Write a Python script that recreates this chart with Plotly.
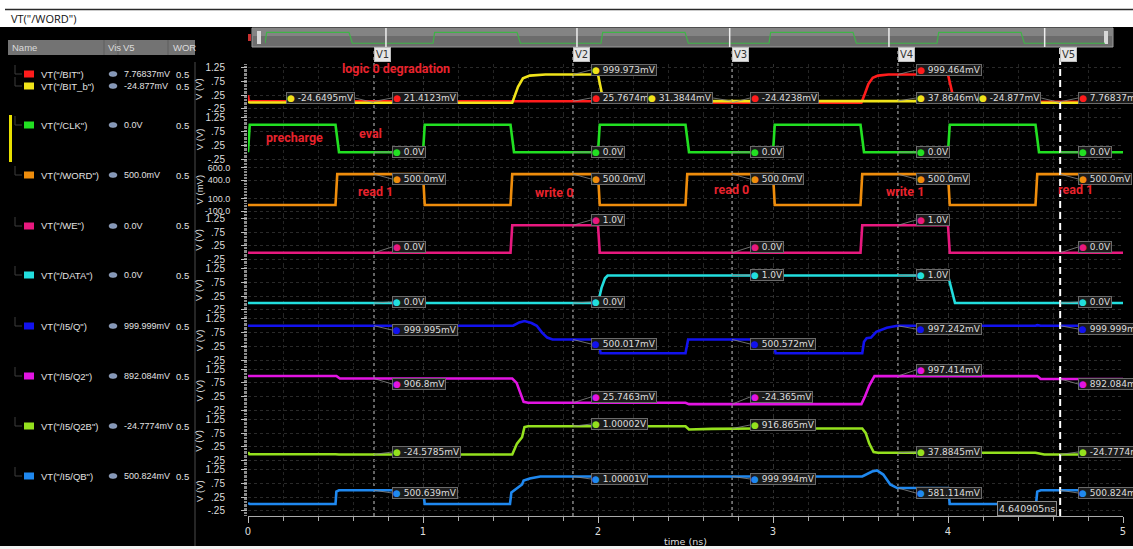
import numpy as np
import plotly.graph_objects as go

# ---------------- values ----------------
TIME_RANGE = [0, 5]
X_TICKS = [0, 1, 2, 3, 4, 5]
X_TICK_TEXT = ["0", "1", "2", "3", "4", "5"]

CURSOR_NAMES = ["V1", "V2", "V3", "V4", "V5"]
CURSOR_T = [0.72, 1.857, 2.766, 3.714, 4.640905]
CURSOR_READOUT = "4.640905ns"

SIG_KEYS = ["BIT", "BIT_b", "CLK", "WORD", "WE", "DATA", "Q", "Q2", "Q2B", "QB"]
SIG_LABELS = ['VT("/BIT")', 'VT("/BIT_b")', 'VT("/CLK")', 'VT("/WORD")', 'VT("/WE")',
              'VT("/DATA")', 'VT("/I5/Q")', 'VT("/I5/Q2")', 'VT("/I5/Q2B")', 'VT("/I5/QB")']
V5_COLUMN = ["7.76837mV", "-24.877mV", "0.0V", "500.0mV", "0.0V", "0.0V",
             "999.999mV", "892.084mV", "-24.7774mV", "500.824mV"]
WORD_COLUMN = ["0.5"] * 10

# waveforms (time in ns, value in V; WORD in mV)
bit_t = [0, 0.004, 0.02, 1.5, 1.52, 2.0, 2.06, 2.5, 3.0, 3.505, 3.525, 3.545, 3.57, 3.6, 3.66, 4.0, 4.035, 4.1, 5.0]
bit_v = [0.25, 0.05, 0.021, 0.021, 0.026, 0.026, -0.02, -0.024, -0.024, -0.024, 0.3, 0.65, 0.88, 0.96, 1.0, 0.999, 0.04, 0.01, 0.008]

bit_b_t = [0, 0.01, 0.5, 0.52, 1.51, 1.525, 1.543, 1.571, 1.61, 1.7, 2.0, 2.03, 2.06, 2.5, 3.5, 3.55, 4.0, 4.04, 5.0]
bit_b_v = [0.0, -0.02, -0.02, -0.025, -0.025, 0.25, 0.55, 0.86, 0.96, 1.0, 1.0, 0.06, 0.031, 0.031, 0.032, 0.038, 0.038, -0.025, -0.025]

clk_t = [0, 0.01, 0.5, 0.52, 1.0, 1.01, 1.5, 1.52, 2.0, 2.01, 2.5, 2.52, 3.0, 3.01, 3.5, 3.52, 4.0, 4.01, 4.5, 4.52, 5.0]
clk_v = [0, 1, 1, 0, 0, 1, 1, 0, 0, 1, 1, 0, 0, 1, 1, 0, 0, 1, 1, 0, 0]

word_t = [0, 0.5, 0.51, 1.0, 1.01, 1.5, 1.51, 2.0, 2.01, 2.5, 2.51, 3.0, 3.01, 3.5, 3.51, 4.0, 4.01, 4.5, 4.51, 5.0]
word_v = [0, 0, 500, 500, 0, 0, 500, 500, 0, 0, 500, 500, 0, 0, 500, 500, 0, 0, 500, 500]

we_t = [0, 1.5, 1.51, 2.0, 2.01, 3.5, 3.51, 4.0, 4.01, 5.0]
we_v = [0, 0, 1, 1, 0, 0, 1, 1, 0, 0]

data_t = [0, 2.0, 2.02, 2.04, 2.055, 4.0, 4.04, 5.0]
data_v = [0, 0, 0.55, 0.9, 1.0, 1.0, 0.0, 0.0]

q_t = [0, 0.5, 0.51, 0.53, 1.515, 1.55, 1.58, 1.62, 1.65, 1.68, 1.71, 1.74, 2.0, 2.015, 2.5, 2.515,
       3.0, 3.015, 3.51, 3.52, 3.535, 3.56, 3.59, 3.65, 3.71, 4.5, 4.51, 4.53, 5.0]
q_v = [1.0, 1.0, 1.02, 1.0, 1.0, 1.12, 1.17, 1.1, 1.0, 0.75, 0.57, 0.5, 0.5, 0.0, 0.0, 0.5,
       0.5, 0.0, 0.0, 0.42, 0.55, 0.57, 0.78, 0.93, 1.0, 1.0, 1.02, 1.0, 1.0]

q2_t = [0, 0.505, 0.525, 1.51, 1.535, 1.555, 1.575, 1.6, 2.5, 2.52, 3.505, 3.525, 3.55, 3.58, 4.51, 4.53, 5.0]
q2_v = [1.0, 1.0, 0.907, 0.907, 0.75, 0.4, 0.06, 0.026, 0.026, -0.024, -0.024, 0.25, 0.65, 0.997, 0.997, 0.89, 0.892]

q2b_t = [0, 0.008, 0.5, 0.52, 1.51, 1.537, 1.566, 1.58, 1.6, 2.5, 2.52, 2.65, 2.9, 3.51, 3.53, 3.55, 3.575, 3.6, 4.5, 4.55, 5.0]
q2b_v = [0.06, -0.02, -0.02, -0.025, -0.025, 0.37, 0.6, 0.97, 1.0, 1.0, 0.88, 0.905, 0.917, 0.92, 0.75, 0.37, 0.06, 0.038, 0.038, -0.025, -0.025]

qb_t = [0, 0.01, 0.5, 0.505, 0.52, 1.0, 1.01, 1.497, 1.505, 1.537, 1.566, 1.575, 1.61, 1.67,
        3.51, 3.566, 3.594, 3.63, 3.67, 3.71, 4.0, 4.01, 4.503, 4.51, 4.53, 5.0]
qb_v = [0.03, 0.0, 0.0, 0.45, 0.5, 0.5, 0.0, 0.0, 0.42, 0.56, 0.71, 0.85, 0.93, 1.0,
        1.0, 1.18, 1.22, 1.07, 0.71, 0.58, 0.58, 0.0, 0.0, 0.45, 0.5, 0.5]

# marker readouts at each cursor, in SIG_KEYS order
MARK_TEXT = [
    ["21.4123mV", "-24.6495mV", "0.0V", "500.0mV", "0.0V", "0.0V", "999.995mV", "906.8mV", "-24.5785mV", "500.639mV"],
    ["25.7674mV", "999.973mV", "0.0V", "500.0mV", "1.0V", "0.0V", "500.017mV", "25.7463mV", "1.00002V", "1.00001V"],
    ["-24.4238mV", "31.3844mV", "0.0V", "500.0mV", "0.0V", "1.0V", "500.572mV", "-24.365mV", "916.865mV", "999.994mV"],
    ["999.464mV", "37.8646mV", "0.0V", "500.0mV", "1.0V", "1.0V", "997.242mV", "997.414mV", "37.8845mV", "581.114mV"],
    ["7.76837mV", "-24.877mV", "0.0V", "500.0mV", "0.0V", "0.0V", "999.999mV", "892.084mV", "-24.7774mV", "500.824mV"],
]

NOTES = ["logic 0 degradation", "precharge", "eval", "read 1", "write 0", "read 0", "write 1", "read 1"]

Y_TICKS_V = [-0.25, 0.25, 0.75, 1.25]
Y_TICK_TEXT_V = ["-.25", ".25", ".75", "1.25"]
Y_TICKS_MV = [-100, 100, 400, 600]
Y_TICK_TEXT_MV = ["-100.0", "100.0", "400.0", "600.0"]

# ---------------- styling / layout ----------------
W, H = 1133, 549
L, R, T, B = 248, 1123, 27, 516


def fx(px):
    return (px - L) / (R - L)


def fy(py):
    return (B - py) / (B - T)


COLORS = {"BIT": "#ff1c1c", "BIT_b": "#f0e31a", "CLK": "#22e022", "WORD": "#ef8d0c", "WE": "#e8197f",
          "DATA": "#22dede", "Q": "#1212ee", "Q2": "#e214e2", "Q2B": "#94e01e", "QB": "#1f88ef"}
SIG_STRIP = [0, 0, 1, 2, 3, 4, 5, 6, 7, 8]
SERIES = {"BIT": (bit_t, bit_v), "BIT_b": (bit_b_t, bit_b_v), "CLK": (clk_t, clk_v), "WORD": (word_t, word_v),
          "WE": (we_t, we_v), "DATA": (data_t, data_v), "Q": (q_t, q_v), "Q2": (q2_t, q2_v),
          "Q2B": (q2b_t, q2b_v), "QB": (qb_t, qb_v)}

NSTRIP = 9
STRIP_TOP = [64 + 50.25 * k for k in range(NSTRIP)]
STRIP_H = 50
ZERO_OFF = [38, 38, 40.5, 38, 38, 38, 38, 38, 38]
SCALE = [27.5, 27.5, 0.0617, 27.5, 27.5, 27.5, 27.5, 27.5, 27.5]

LABEL_PY = [
    [98, 98, 152, 179, 247, 302, 330, 384, 452, 493],
    [98, 70, 152, 179, 220, 302, 344, 397, 424, 479],
    [98, 98, 152, 179, 247, 275, 344, 397, 425, 479],
    [70, 98, 152, 179, 220, 275, 329, 370, 452, 493],
    [98, 98, 152, 179, 247, 302, 329, 384, 452, 493],
]
LEFT_LABELS = {(0, 1), (2, 1), (4, 1)}
NOTE_POS = [(396, 68), (294, 137), (370, 133), (375, 191), (554, 192), (731, 189), (905, 191), (1075, 189)]
ROW_PY = [74, 86, 125, 175, 226, 275, 326, 376, 426, 476]

FONT = "DejaVu Sans"
UIFONT = "Liberation Sans"


def yname(k):
    return "y" if k == 0 else f"y{k + 1}"


def ylayout(k):
    return "yaxis" if k == 0 else f"yaxis{k + 1}"


fig = go.Figure()

# waveform traces
for key, s in zip(SIG_KEYS, SIG_STRIP):
    t, v = SERIES[key]
    fig.add_trace(go.Scatter(x=t, y=v, mode="lines", xaxis="x", yaxis=yname(s),
                             line=dict(color=COLORS[key], width=2.6, shape="linear"),
                             hoverinfo="skip", showlegend=False))

# overview (scroll bar) trace
fig.add_trace(go.Scatter(x=clk_t, y=clk_v, mode="lines", xaxis="x2", yaxis="y10",
                         line=dict(color="#3fb447", width=1.2), hoverinfo="skip", showlegend=False))

layout = dict(
    width=W, height=H, margin=dict(l=L, r=W - R, t=T, b=H - B, autoexpand=False),
    paper_bgcolor="#000000", plot_bgcolor="rgba(0,0,0,0)", showlegend=False,
    xaxis=dict(domain=[0, 1], range=TIME_RANGE, anchor="free", position=0, automargin=False,
               tickmode="array", tickvals=X_TICKS, ticktext=X_TICK_TEXT,
               ticks="outside", ticklen=6, tickcolor="#bbbbbb", showline=True, linecolor="#aaaaaa",
               tickfont=dict(family=FONT, size=10, color="#dddddd"),
               showgrid=True, gridcolor="#303030", griddash="dot", zeroline=False, fixedrange=True,
               minor=dict(tickmode="array", tickvals=[round(x, 2) for x in np.arange(0, 5.001, 0.2)],
                          ticks="outside", ticklen=4, tickcolor="#aaaaaa",
                          showgrid=True, gridcolor="#252525", griddash="dot")),
    xaxis2=dict(domain=[fx(265), fx(1105)], range=TIME_RANGE, anchor="y10", visible=False, fixedrange=True),
    yaxis10=dict(domain=[fy(46), fy(29)], range=[-0.25, 1.3], anchor="x2", visible=False, fixedrange=True),
)

for k in range(NSTRIP):
    top = STRIP_TOP[k]
    z = ZERO_OFF[k]
    sc = SCALE[k]
    rng = [-(STRIP_H - z) / sc, z / sc]
    if k == 2:
        tv, tt = Y_TICKS_MV, Y_TICK_TEXT_MV
        minor = [float(v) for v in np.arange(-150, 650.1, 25)]
    else:
        tv, tt = Y_TICKS_V, Y_TICK_TEXT_V
        minor = [round(float(v), 3) for v in np.arange(-0.4, 1.36, 0.05)]
    layout[ylayout(k)] = dict(
        domain=[max(0.0, fy(top + STRIP_H)), fy(top)], range=rng, anchor="x", automargin=False,
        tickmode="array", tickvals=tv, ticktext=tt, ticks="outside", ticklen=6, tickcolor="#bbbbbb",
        tickfont=dict(family=UIFONT, size=9 if k == 2 else 10, color="#dddddd"),
        ticklabelstandoff=9 if k == 2 else 14,
        showgrid=True, gridcolor="#2a2a2a", griddash="dot", zeroline=False, showline=False, fixedrange=True,
        minor=dict(tickmode="array", tickvals=minor, ticks="outside", ticklen=3, tickcolor="#8a8a8a", showgrid=False))

shapes = []
ann = []


def rect_px(x0, y0, x1, y1, fill, line=None, lw=0, layer="below"):
    shapes.append(dict(type="rect", xref="paper", yref="paper", x0=fx(x0), x1=fx(x1), y0=fy(y1), y1=fy(y0),
                       fillcolor=fill, line=dict(color=line or fill, width=lw), layer=layer))


def line_px(x0, y0, x1, y1, color, w=1, layer="below"):
    shapes.append(dict(type="line", xref="paper", yref="paper", x0=fx(x0), x1=fx(x1), y0=fy(y0), y1=fy(y1),
                       line=dict(color=color, width=w), layer=layer))


def text_px(x, y, s, size=10, color="#dddddd", xanchor="left", family=FONT, angle=0, **kw):
    ann.append(dict(x=fx(x), y=fy(y), xref="paper", yref="paper", text=s, showarrow=False,
                    xanchor=xanchor, yanchor="middle", textangle=angle,
                    font=dict(family=family, size=size, color=color), **kw))


# top white title strip
rect_px(0, 0, W, 27, "#ffffff")
line_px(5, 9.5, W, 9.5, "#2a2a2a", 1.5)
text_px(9, 19, 'VT("/WORD")', size=11, color="#111111", family="Open Sans")
rect_px(0, 546, W, H, "#f2f2f2")

# left panel
rect_px(8, 40, 195, 55, "#737373")
for sx in (104, 118, 168):
    line_px(sx, 40, sx, 55, "#5e5e5e", 1)
for s, x in (("Name", 10), ("Vis", 106), ("V5", 121), ("WOR", 171)):
    text_px(x, 47.5, s, size=9.5, color="#dcdcdc", family=UIFONT)
line_px(195, 62, 195, 546, "#4a4a4a", 1)
rect_px(9, 115, 12, 162, "#e8e000")

for i, key in enumerate(SIG_KEYS):
    py = ROW_PY[i]
    line_px(15, py - 9, 15, py, "#3c3c3c", 1)
    line_px(15, py, 22, py, "#3c3c3c", 1)
    rect_px(24, py - 3.5, 34, py + 3.5, COLORS[key])
    text_px(39, py, SIG_LABELS[i], size=9.5, color="#e2e2e2", family=UIFONT)
    shapes.append(dict(type="circle", xref="paper", yref="paper", x0=fx(109), x1=fx(117), y0=fy(py + 2.5),
                       y1=fy(py - 2.5), fillcolor="#8497b8", line=dict(color="#a9b7cf", width=0.5)))
    text_px(122, py, V5_COLUMN[i], size=9, color="#e2e2e2", family=UIFONT)
    text_px(174, py, WORD_COLUMN[i], size=9.5, color="#e2e2e2", family=UIFONT)

# y-axis titles
for k in range(NSTRIP):
    text_px(199, STRIP_TOP[k] + 25, "V (mV)" if k == 2 else "V (V)", size=9.5, color="#dddddd",
            xanchor="center", angle=-90, family=UIFONT)

# x title
text_px(685, 541, "time (ns)", size=9.5, color="#dddddd", xanchor="center")

# overview bar
rect_px(252, 28, 1113, 47, "#6c6c6c", "#9c9c9c", 1)
rect_px(253, 29, 1112, 36, "#848484")
rect_px(257, 31, 261, 44, "#d8d8d8")
rect_px(1104, 31, 1108, 44, "#d8d8d8")
rect_px(248, 34, 251, 41, "#c83030")
for t in CURSOR_T:
    shapes.append(dict(type="line", xref="x2", yref="paper", x0=t, x1=t, y0=fy(47), y1=fy(28),
                       line=dict(color="#eeeeee", width=1.5), layer="above"))

# cursors
for i, t in enumerate(CURSOR_T):
    last = i == len(CURSOR_T) - 1
    shapes.append(dict(type="line", xref="x", yref="paper", x0=t, x1=t, y0=0, y1=fy(48),
                       line=dict(color="#ffffff" if last else "#c8c8c8", width=2 if last else 1,
                                 dash="7px,4px" if last else "3px,3px"),
                       layer="above" if last else "below"))
    ann.append(dict(x=t, xref="x", y=fy(55), yref="paper", text=CURSOR_NAMES[i], showarrow=False,
                    xanchor="left", yanchor="middle", bgcolor="#e6e6e6", bordercolor="#bdbdbd",
                    borderwidth=1, borderpad=1, font=dict(family=FONT, size=10, color="#333333")))

ann.append(dict(x=CURSOR_T[-1], xref="x", y=fy(508), yref="paper", text=CURSOR_READOUT, showarrow=False,
                xanchor="right", xshift=-3, yanchor="middle", bgcolor="#141414", bordercolor="#8a8a8a",
                borderwidth=1, borderpad=1, font=dict(family=FONT, size=9.5, color="#dddddd")))


def to_axis(text, strip):
    v = float(text[:-2]) / 1000.0 if text.endswith("mV") else float(text[:-1])
    return v * 1000.0 if strip == 2 else v


# marker readouts
for c, t in enumerate(CURSOR_T):
    for i, key in enumerate(SIG_KEYS):
        s = SIG_STRIP[i]
        txt = MARK_TEXT[c][i]
        val = to_axis(txt, s)
        point_py = STRIP_TOP[s] + ZERO_OFF[s] - val * SCALE[s]
        left = (c, i) in LEFT_LABELS
        ann.append(dict(x=t, y=val, xref="x", yref=yname(s),
                        text=f"<span style='color:{COLORS[key]}'>\u25cf</span> {txt}",
                        showarrow=True, arrowhead=0, arrowwidth=0.8, arrowcolor="#8a8a8a",
                        ax=-19 if left else 18, ay=LABEL_PY[c][i] - point_py, axref="pixel", ayref="pixel",
                        xanchor="right" if left else "left", yanchor="middle", standoff=0,
                        bgcolor="#1b1b1b", bordercolor="#6a6a6a", borderwidth=1, borderpad=0,
                        font=dict(family=FONT, size=9, color="#dddddd")))

# red notes
for s, (px, py) in zip(NOTES, NOTE_POS):
    text_px(px, py, f"<b>{s}</b>", size=12.5, color="#e8232d", xanchor="center", family="Roboto")

layout["shapes"] = shapes
layout["annotations"] = ann
fig.update_layout(**layout)
fig.write_html("out.html")
